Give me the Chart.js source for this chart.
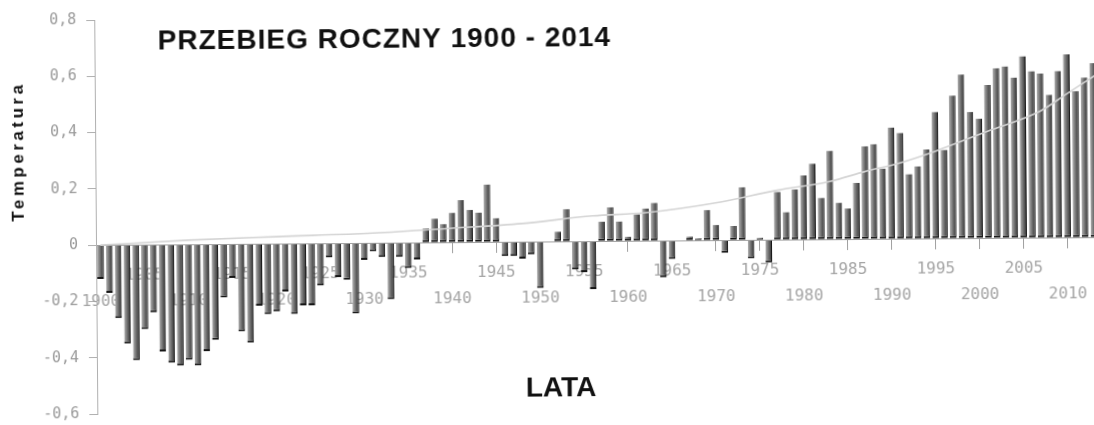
<!DOCTYPE html>
<html lang="pl">
<head>
<meta charset="utf-8">
<title>Przebieg roczny 1900 - 2014</title>
<script src="https://cdn.jsdelivr.net/npm/chart.js@4.4.1/dist/chart.umd.min.js"></script>
<style>
    html, body { margin: 0; padding: 0; background: #fff; overflow: hidden; }
    /* wykres lekko przekrzywiony, jak na skanie */
    #wykres { position: relative; width: 1108px; height: 433px; transform: rotate(-0.45deg); transform-origin: 96px 244px; }
</style>
</head>
<body>
<div id="wykres"><canvas id="canvas-wykres"></canvas></div>
<script>
'use strict';

/* global Chart */

const tytul = 'PRZEBIEG ROCZNY 1900 - 2014';

// Lata 1900 - 2014
const lata = [];
for (let rok = 1900; rok <= 2014; rok++) {
    lata.push(rok);
}

// Anomalia temperatury dla kazdego roku
const temperatury = [
    -0.12, -0.17, -0.26, -0.35, -0.41, -0.30, -0.24, -0.38, -0.42, -0.43,   // 1900
    -0.41, -0.43, -0.38, -0.34, -0.19, -0.12, -0.31, -0.35, -0.22, -0.25,   // 1910
    -0.24, -0.17, -0.25, -0.22, -0.22, -0.15, -0.05, -0.12, -0.13, -0.25,   // 1920
    -0.06, -0.03, -0.05, -0.20, -0.05, -0.09, -0.06, 0.05, 0.085, 0.065,    // 1930
    0.105, 0.15, 0.115, 0.105, 0.205, 0.085, -0.05, -0.05, -0.06, -0.045,   // 1940
    -0.165, 0.0, 0.035, 0.115, -0.10, -0.11, -0.17, 0.07, 0.12, 0.07,       // 1950
    0.015, 0.095, 0.115, 0.135, -0.13, -0.065, 0.0, 0.014, 0.008, 0.108,    // 1960
    0.055, -0.045, 0.05, 0.188, -0.065, 0.008, -0.08, 0.17, 0.098, 0.178,   // 1970
    0.228, 0.27, 0.148, 0.315, 0.13, 0.11, 0.20, 0.33, 0.337, 0.25,         // 1980
    0.396, 0.376, 0.23, 0.257, 0.317, 0.45, 0.315, 0.508, 0.582, 0.449,     // 1990
    0.425, 0.544, 0.604, 0.61, 0.57, 0.645, 0.592, 0.583, 0.508, 0.592,     // 2000
    0.651, 0.52, 0.568, 0.619, 0.68                                         // 2010
];

// Linia trendu - punkty odczytane co kilka lat
const trendLata = [1900, 1910, 1920, 1931, 1940, 1948, 1956, 1962, 1970, 1977, 1983, 1987, 1991, 1995, 2001, 2007, 2010, 2013, 2014];
const trendWartosci = [0.0, 0.015, 0.025, 0.035, 0.05, 0.065, 0.09, 0.1, 0.133, 0.176, 0.206, 0.24, 0.27, 0.31, 0.38, 0.45, 0.51, 0.57, 0.59];

const trend = lata.map(rok => {
    const i = trendLata.indexOf(rok);
    return i === -1 ? null : trendWartosci[i];
});

const czcionkaOsi = 'DejaVu Sans Mono';

// Szary gradient w poprzek kazdego slupka
function wypelnienie(context) {
    const chart = context.chart;
    if (context.type !== 'data' || !chart.chartArea) {
        return '#666';
    }
    const x = chart.scales.x.getPixelForValue(context.dataIndex);
    const g = chart.ctx.createLinearGradient(x - 3.5, 0, x + 3.5, 0);
    g.addColorStop(0, '#b4b4b4');
    g.addColorStop(0.5, '#6c6c6c');
    g.addColorStop(1, '#2a2a2a');
    return g;
}

// Napisy: tytul, os X i os Y
const napisy = {
    id: 'napisy',
    afterDraw(chart) {
        const ctx = chart.ctx;
        ctx.save();
        ctx.fillStyle = '#111';
        ctx.textAlign = 'center';
        ctx.textBaseline = 'middle';
        ctx.font = 'bold 28px "Liberation Sans"';
        ctx.letterSpacing = '1px';
        ctx.fillText(tytul, 386, 42);
        ctx.letterSpacing = '0px';
        ctx.fillText('LATA', 560, 392);
        ctx.translate(19, 151);
        ctx.rotate(-Math.PI / 2);
        ctx.font = 'bold 17px "Liberation Sans"';
        ctx.letterSpacing = '3.5px';
        ctx.fillText('Temperatura', 0, 0);
        ctx.restore();
    }
};

document.addEventListener('DOMContentLoaded', function () {
    const ctx = document.getElementById('canvas-wykres').getContext('2d');

    // eslint-disable-next-line no-unused-vars
    let wykres = new Chart(ctx, {
        type: 'bar',
        data: {
            labels: lata,
            datasets: [
                {
                    type: 'line',
                    label: 'Trend',
                    data: trend,
                    borderColor: '#d4d4d4',
                    borderWidth: 1.6,
                    pointRadius: 0,
                    spanGaps: true,
                    cubicInterpolationMode: 'monotone',
                    order: 0
                },
                {
                    type: 'bar',
                    label: 'Temperatura',
                    data: temperatury,
                    backgroundColor: wypelnienie,
                    borderColor: '#161616',
                    borderWidth: { top: 0, right: 1, bottom: 2, left: 0 },
                    borderSkipped: false,
                    categoryPercentage: 1,
                    barPercentage: 0.76,
                    order: 1
                }
            ]
        },
        options: {
            responsive: true,
            maintainAspectRatio: false,
            animation: false,
            layout: { padding: { top: 20, right: 0, bottom: 4, left: 0 } },
            plugins: {
                legend: { display: false },
                tooltip: { enabled: false }
            },
            scales: {
                x: {
                    position: { y: 0 },
                    offset: true,
                    border: { color: '#a0a0a0' },
                    grid: { drawOnChartArea: false, offset: false, tickLength: 10, color: '#a0a0a0' },
                    ticks: {
                        autoSkip: false,
                        maxRotation: 0,
                        padding: 8,
                        color: '#a5a5a5',
                        font: { family: czcionkaOsi, size: 16, lineHeight: 1.6 },
                        callback: function (v, i) {
                            const rok = lata[i];
                            if (rok % 5 !== 0) {
                                return null;
                            }
                            return rok % 10 === 0 ? ['', String(rok)] : String(rok);
                        }
                    }
                },
                y: {
                    min: -0.6,
                    max: 0.8,
                    afterFit: function (scale) {
                        scale.width = 96;
                    },
                    border: { color: '#b0b0b0' },
                    grid: { drawOnChartArea: false, tickLength: 8, color: '#b0b0b0' },
                    ticks: {
                        stepSize: 0.2,
                        padding: 10,
                        color: '#9a9a9a',
                        font: { family: czcionkaOsi, size: 15 },
                        callback: function (v) {
                            if (Math.abs(v) < 1e-9) {
                                return '0';
                            }
                            return v.toFixed(1).replace('.', ',');
                        }
                    }
                }
            }
        },
        plugins: [napisy]
    });
});
</script>
</body>
</html>
